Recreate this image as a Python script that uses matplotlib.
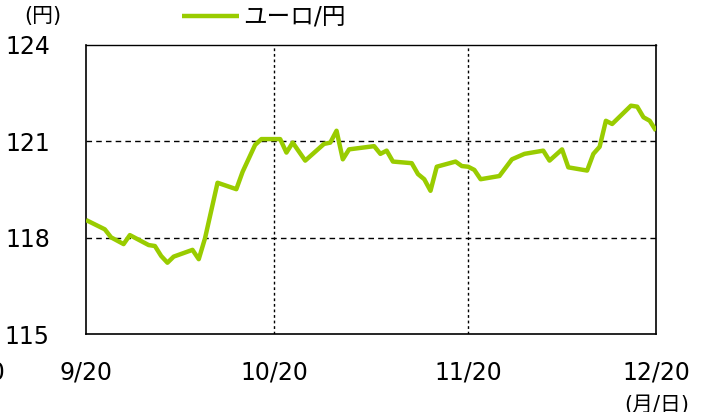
import matplotlib
matplotlib.use("Agg")
import matplotlib.pyplot as plt
import pandas as pd

plt.rcParams['font.family'] = ['DejaVu Sans', 'Noto Sans CJK JP']

dates = ["2019-09-20", "2019-09-23", "2019-09-24", "2019-09-26", "2019-09-27",
         "2019-09-30", "2019-10-01", "2019-10-02", "2019-10-03", "2019-10-04",
         "2019-10-07", "2019-10-08", "2019-10-09", "2019-10-11", "2019-10-14",
         "2019-10-15", "2019-10-17", "2019-10-18", "2019-10-21", "2019-10-22",
         "2019-10-23", "2019-10-25", "2019-10-28", "2019-10-29", "2019-10-30",
         "2019-10-31", "2019-11-01", "2019-11-05", "2019-11-06", "2019-11-07",
         "2019-11-08", "2019-11-11", "2019-11-12", "2019-11-13", "2019-11-14",
         "2019-11-15", "2019-11-18", "2019-11-19", "2019-11-20", "2019-11-21",
         "2019-11-22", "2019-11-25", "2019-11-27", "2019-11-29", "2019-12-02",
         "2019-12-03", "2019-12-05", "2019-12-06", "2019-12-09", "2019-12-10",
         "2019-12-11", "2019-12-12", "2019-12-13", "2019-12-16", "2019-12-17",
         "2019-12-18", "2019-12-19", "2019-12-20"]
eurjpy = [118.55, 118.26, 118.01, 117.80, 118.08,
          117.77, 117.74, 117.43, 117.22, 117.41,
          117.62, 117.33, 117.98, 119.71, 119.51,
          120.05, 120.89, 121.07, 121.07, 120.65,
          120.96, 120.40, 120.92, 120.96, 121.33,
          120.44, 120.75, 120.85, 120.61, 120.71,
          120.37, 120.32, 119.98, 119.82, 119.46,
          120.21, 120.37, 120.23, 120.21, 120.11,
          119.82, 119.92, 120.44, 120.61, 120.71,
          120.40, 120.75, 120.19, 120.09, 120.61,
          120.83, 121.64, 121.54, 122.11, 122.08,
          121.75, 121.64, 121.33]

x_ticks = ["2019-09-20", "2019-10-20", "2019-11-20", "2019-12-20"]
x_labels = ["9/20", "10/20", "11/20", "12/20"]
y_ticks = [115, 118, 121, 124]

x = pd.to_datetime(dates)
xt = pd.to_datetime(x_ticks)

fig = plt.figure(figsize=(7.14, 4.12), dpi=100)
ax = fig.add_axes([86 / 714, 1 - 334 / 412, 570 / 714, 289 / 412])

ax.plot(x, eurjpy, color="#99cc00", lw=3.2, solid_joinstyle="round",
        solid_capstyle="butt", label="ユーロ/円", zorder=3)

ax.set_xlim(xt[0], xt[-1])
ax.set_ylim(115, 124)
ax.set_xticks(xt)
ax.set_xticklabels(x_labels)
ax.set_yticks(y_ticks)

ax.tick_params(length=0, labelsize=17)
ax.tick_params(axis="x", pad=19)
ax.tick_params(axis="y", pad=26)

for v in y_ticks[1:-1]:
    ax.axhline(v, color="black", lw=1.0, ls=(0, (4, 3)), zorder=1)
for d in xt[1:-1]:
    ax.axvline(d, color="black", lw=1.0, ls=(0, (2, 2)), zorder=1)

for s in ["left", "bottom", "right"]:
    ax.spines[s].set_linewidth(1.2)
ax.spines["top"].set_linestyle((0, (3, 1)))
ax.spines["top"].set_linewidth(1.0)

fig.text(43 / 714, 1 - 16 / 412, "(円)", fontsize=15, ha="center", va="center")
fig.text(657 / 714, 1 - 405 / 412, "(月/日)", fontsize=15, ha="center", va="center")
fig.text(5 / 714, 1 - 372 / 412, "12/20", fontsize=17, ha="right", va="center")

leg = ax.legend(loc="center", bbox_to_anchor=(264 / 714, 1 - 17 / 412),
                bbox_transform=fig.transFigure, frameon=False, fontsize=17,
                handlelength=2.4, handletextpad=0.2)

fig.savefig("out.png", dpi=100)
